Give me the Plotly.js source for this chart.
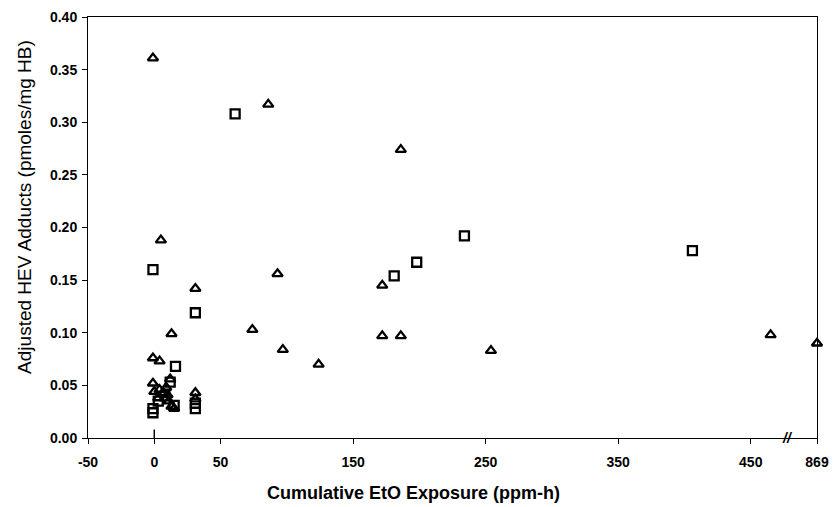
<!DOCTYPE html>
<html>
<head>
<meta charset="utf-8">
<script src="https://cdn.plot.ly/plotly-3.0.1.min.js"></script>
<style>html,body{margin:0;padding:0;background:#fff;}#chart{width:839px;height:507px;}</style>
</head>
<body>
<div id="chart"></div>
<script>
// Triangle series (x = cumulative EtO exposure, ppm-h; 500 stands for the broken-axis 869 value)
const triX = [-1, 86, 186, 5, 93, 172, 31, 13, 74, 97, 124, 172, 186, 254, 465, 500,
              -1, 4, -1, 0, 4, 7, 10, 3, 11, 13, 15, 9, 12, 31, 31];
const triY = [0.361, 0.317, 0.274, 0.188, 0.156, 0.145, 0.142, 0.099, 0.103, 0.084, 0.070, 0.097, 0.097, 0.083, 0.098, 0.090,
              0.076, 0.073, 0.052, 0.044, 0.046, 0.043, 0.041, 0.038, 0.035, 0.030, 0.028, 0.048, 0.056, 0.043, 0.037];
// Square series
const sqX = [61, -1, 181, 198, 234, 406, 31, 16, 12, 3, 15, -1, -1, 8, 31, 31];
const sqY = [0.308, 0.160, 0.154, 0.167, 0.192, 0.178, 0.119, 0.068, 0.053, 0.035, 0.031, 0.028, 0.024, 0.040, 0.033, 0.028];

const xTickVals = [-50, 0, 50, 150, 250, 350, 450, 500];
const xTickText = ['-50', '0', '50', '150', '250', '350', '450', '869'];
const yTickVals = [0, 0.05, 0.10, 0.15, 0.20, 0.25, 0.30, 0.35, 0.40];

const fam = 'Liberation Sans, Arial, sans-serif';

const traces = [
  {x: triX, y: triY, type: 'scatter', mode: 'markers', cliponaxis: false,
   marker: {symbol: 'triangle-up-open', size: 9, color: '#000', line: {width: 2.3, color: '#000'}}},
  {x: sqX, y: sqY, type: 'scatter', mode: 'markers', cliponaxis: false,
   marker: {symbol: 'square-open', size: 9, color: '#000', line: {width: 2.3, color: '#000'}}}
];

const layout = {
  width: 839, height: 507,
  margin: {l: 88, r: 22, t: 17, b: 69},
  paper_bgcolor: '#fff', plot_bgcolor: '#fff',
  showlegend: false,
  font: {family: fam, color: '#000', size: 14},
  xaxis: {
    range: [-50, 500], showgrid: false, zeroline: false,
    showline: true, linecolor: '#000', linewidth: 1, mirror: true,
    ticks: 'outside', ticklen: 5, tickcolor: '#000', ticklabelstandoff: 6,
    tickvals: xTickVals, ticktext: xTickText,
    tickfont: {family: fam, size: 14, color: '#000', weight: 'bold'}
  },
  yaxis: {
    range: [0, 0.40], showgrid: false, zeroline: false,
    showline: true, linecolor: '#000', linewidth: 1, mirror: true,
    ticks: 'outside', ticklen: 5, tickcolor: '#000', ticklabelstandoff: 2,
    tickvals: yTickVals, tickformat: '.2f',
    tickfont: {family: fam, size: 14, color: '#000', weight: 'bold'}
  },
  shapes: [
    {type: 'line', xref: 'x', yref: 'y', x0: 0, x1: 0, y0: 0, y1: 0.008, line: {color: '#000', width: 1.5}}
  ],
  annotations: [
    {x: 478, y: 0, xref: 'x', yref: 'y', text: '<b><i>//</i></b>', showarrow: false,
     font: {family: fam, size: 14, color: '#000'}},
    {x: 0.446, y: -0.131, xref: 'paper', yref: 'paper', xanchor: 'center', yanchor: 'middle',
     text: '<b>Cumulative EtO Exposure (ppm-h)</b>', showarrow: false,
     font: {family: fam, size: 18, color: '#000'}},
    {x: -0.0864, y: 0.549, xref: 'paper', yref: 'paper', xanchor: 'center', yanchor: 'middle',
     textangle: -90, text: 'Adjusted HEV Adducts (pmoles/mg HB)', showarrow: false,
     font: {family: fam, size: 19, color: '#000'}}
  ]
};

Plotly.newPlot('chart', traces, layout, {displayModeBar: false, staticPlot: true});
</script>
</body>
</html>
